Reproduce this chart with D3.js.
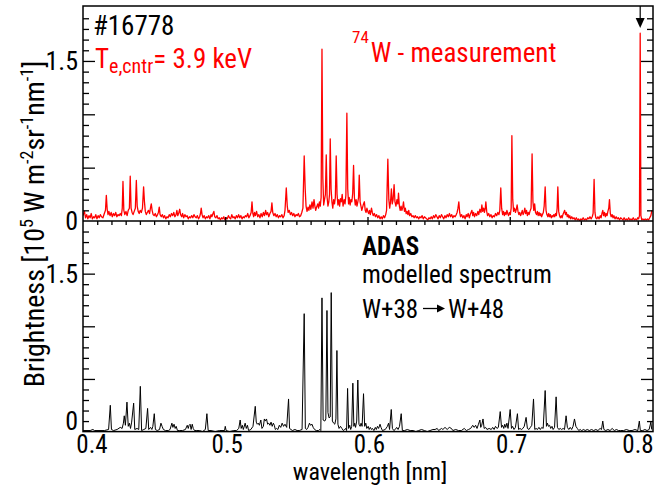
<!DOCTYPE html>
<html>
<head>
<meta charset="utf-8">
<script src="https://cdn.jsdelivr.net/npm/d3@7"></script>
<style>
  body { margin: 0; background: #fff; }
  text { font-family: "Liberation Sans Narrow", "Arial Narrow", "Roboto Condensed", sans-serif; }
</style>
</head>
<body>
<svg id="chart"></svg>
<script>
// measured W spectrum (shot #16778), [wavelength nm, brightness 1e5 W m-2 sr-1 nm-1]
const measured = [
  [0.4000,0.05],[0.4010,0.09],[0.4018,0.03],[0.4026,0.06],[0.4034,0.02],[0.4042,0.05],[0.4050,0.03],[0.4058,0.07],
  [0.4066,0.02],[0.4074,0.04],[0.4082,0.03],[0.4090,0.06],[0.4098,0.02],[0.4106,0.05],[0.4114,0.03],[0.4122,0.06],
  [0.4130,0.04],[0.4140,0.03],[0.4150,0.07],[0.4158,0.10],[0.4164,0.24],[0.4170,0.11],[0.4176,0.06],[0.4182,0.09],
  [0.4190,0.05],[0.4198,0.08],[0.4206,0.04],[0.4214,0.07],[0.4222,0.05],[0.4230,0.08],[0.4238,0.04],[0.4246,0.06],
  [0.4254,0.05],[0.4262,0.07],[0.4270,0.05],[0.4276,0.12],[0.4281,0.37],[0.4287,0.10],[0.4294,0.06],[0.4302,0.09],
  [0.4310,0.05],[0.4318,0.10],[0.4326,0.12],[0.4332,0.42],[0.4338,0.12],[0.4345,0.08],[0.4352,0.06],[0.4360,0.09],
  [0.4368,0.12],[0.4375,0.38],[0.4381,0.14],[0.4388,0.09],[0.4395,0.07],[0.4402,0.10],[0.4410,0.08],[0.4418,0.12],
  [0.4426,0.32],[0.4432,0.18],[0.4438,0.09],[0.4445,0.06],[0.4452,0.08],[0.4460,0.10],[0.4468,0.07],[0.4474,0.12],
  [0.4480,0.16],[0.4486,0.10],[0.4493,0.06],[0.4500,0.05],[0.4508,0.07],[0.4516,0.04],[0.4524,0.06],[0.4530,0.08],
  [0.4536,0.13],[0.4542,0.06],[0.4550,0.04],[0.4558,0.06],[0.4566,0.03],[0.4574,0.05],[0.4582,0.02],[0.4590,0.04],
  [0.4598,0.03],[0.4606,0.06],[0.4614,0.04],[0.4622,0.07],[0.4630,0.05],[0.4638,0.08],[0.4646,0.04],[0.4654,0.06],
  [0.4660,0.10],[0.4666,0.05],[0.4674,0.08],[0.4680,0.11],[0.4686,0.06],[0.4694,0.04],[0.4700,0.07],[0.4708,0.03],
  [0.4716,0.06],[0.4724,0.04],[0.4732,0.05],[0.4740,0.02],[0.4748,0.04],[0.4756,0.03],[0.4764,0.05],[0.4772,0.03],
  [0.4780,0.06],[0.4788,0.04],[0.4796,0.03],[0.4804,0.05],[0.4812,0.02],[0.4820,0.04],[0.4826,0.07],[0.4831,0.12],
  [0.4837,0.06],[0.4844,0.03],[0.4852,0.05],[0.4860,0.02],[0.4868,0.04],[0.4876,0.03],[0.4884,0.05],[0.4892,0.02],
  [0.4900,0.06],[0.4906,0.04],[0.4914,0.07],[0.4920,0.09],[0.4926,0.04],[0.4934,0.03],[0.4942,0.05],[0.4950,0.02],
  [0.4958,0.03],[0.4966,0.01],[0.4974,0.03],[0.4982,0.02],[0.4990,0.04],[0.4998,0.01],[0.5006,0.03],[0.5014,0.02],
  [0.5022,0.05],[0.5030,0.03],[0.5038,0.02],[0.5046,0.06],[0.5054,0.03],[0.5062,0.04],[0.5070,0.02],[0.5078,0.05],
  [0.5086,0.03],[0.5094,0.06],[0.5102,0.03],[0.5110,0.05],[0.5118,0.02],[0.5126,0.04],[0.5134,0.03],[0.5142,0.05],
  [0.5150,0.04],[0.5158,0.07],[0.5166,0.03],[0.5174,0.05],[0.5182,0.08],[0.5188,0.18],[0.5194,0.07],[0.5200,0.04],
  [0.5206,0.08],[0.5212,0.05],[0.5220,0.09],[0.5228,0.04],[0.5236,0.06],[0.5244,0.03],[0.5252,0.07],[0.5260,0.04],
  [0.5268,0.08],[0.5276,0.05],[0.5284,0.10],[0.5290,0.06],[0.5298,0.08],[0.5306,0.04],[0.5314,0.07],[0.5322,0.09],
  [0.5328,0.17],[0.5334,0.08],[0.5342,0.05],[0.5350,0.07],[0.5358,0.04],[0.5366,0.06],[0.5374,0.03],[0.5382,0.05],
  [0.5390,0.04],[0.5398,0.06],[0.5406,0.03],[0.5414,0.05],[0.5420,0.10],[0.5429,0.31],[0.5436,0.14],[0.5442,0.08],
  [0.5450,0.10],[0.5458,0.06],[0.5466,0.08],[0.5474,0.05],[0.5482,0.07],[0.5490,0.04],[0.5498,0.06],[0.5506,0.05],
  [0.5514,0.07],[0.5522,0.04],[0.5530,0.05],[0.5538,0.08],[0.5546,0.12],[0.5555,0.61],[0.5562,0.30],[0.5568,0.14],
  [0.5575,0.09],[0.5582,0.13],[0.5588,0.10],[0.5595,0.15],[0.5602,0.11],[0.5610,0.18],[0.5617,0.12],[0.5624,0.20],
  [0.5630,0.14],[0.5636,0.10],[0.5642,0.13],[0.5650,0.16],[0.5656,0.12],[0.5662,0.18],[0.5668,0.14],[0.5674,0.22],
  [0.5680,1.61],[0.5686,0.40],[0.5692,0.15],[0.5698,0.20],[0.5704,0.25],[0.5710,0.62],[0.5716,0.22],[0.5722,0.14],
  [0.5728,0.18],[0.5733,0.25],[0.5738,0.77],[0.5744,0.30],[0.5750,0.18],[0.5756,0.12],[0.5762,0.20],[0.5768,0.16],
  [0.5774,0.22],[0.5780,0.61],[0.5786,0.25],[0.5792,0.15],[0.5798,0.20],[0.5804,0.14],[0.5810,0.21],[0.5816,0.18],
  [0.5822,0.25],[0.5828,0.14],[0.5836,0.20],[0.5842,0.16],[0.5848,0.24],[0.5855,1.01],[0.5861,0.30],[0.5867,0.16],
  [0.5872,0.22],[0.5878,0.15],[0.5884,0.20],[0.5890,0.18],[0.5896,0.26],[0.5902,0.52],[0.5908,0.22],[0.5914,0.15],
  [0.5920,0.20],[0.5926,0.14],[0.5932,0.18],[0.5937,0.22],[0.5942,0.43],[0.5948,0.18],[0.5954,0.14],[0.5960,0.10],
  [0.5966,0.13],[0.5972,0.16],[0.5978,0.18],[0.5984,0.10],[0.5990,0.08],[0.5996,0.12],[0.6002,0.09],[0.6008,0.07],
  [0.6014,0.10],[0.6020,0.06],[0.6028,0.12],[0.6034,0.08],[0.6040,0.05],[0.6048,0.07],[0.6056,0.04],[0.6064,0.06],
  [0.6072,0.03],[0.6080,0.05],[0.6088,0.02],[0.6096,0.04],[0.6104,0.02],[0.6112,0.05],[0.6120,0.03],[0.6128,0.06],
  [0.6134,0.10],[0.6143,0.58],[0.6150,0.20],[0.6156,0.12],[0.6162,0.18],[0.6168,0.30],[0.6174,0.16],[0.6180,0.20],
  [0.6187,0.34],[0.6193,0.18],[0.6200,0.14],[0.6207,0.20],[0.6213,0.16],[0.6218,0.26],[0.6224,0.14],[0.6230,0.10],
  [0.6236,0.14],[0.6242,0.10],[0.6248,0.13],[0.6253,0.18],[0.6260,0.09],[0.6266,0.12],[0.6272,0.07],[0.6278,0.09],
  [0.6284,0.06],[0.6290,0.10],[0.6296,0.05],[0.6304,0.07],[0.6312,0.04],[0.6320,0.05],[0.6328,0.03],[0.6336,0.05],
  [0.6344,0.03],[0.6352,0.04],[0.6360,0.02],[0.6368,0.04],[0.6376,0.03],[0.6384,0.05],[0.6392,0.02],[0.6400,0.04],
  [0.6408,0.03],[0.6416,0.02],[0.6424,0.01],[0.6432,0.03],[0.6440,0.02],[0.6448,0.04],[0.6456,0.02],[0.6464,0.05],
  [0.6472,0.03],[0.6480,0.06],[0.6488,0.04],[0.6496,0.02],[0.6504,0.05],[0.6512,0.03],[0.6520,0.06],[0.6528,0.04],
  [0.6536,0.02],[0.6544,0.05],[0.6552,0.03],[0.6560,0.06],[0.6568,0.04],[0.6576,0.07],[0.6584,0.04],[0.6592,0.06],
  [0.6600,0.03],[0.6608,0.05],[0.6616,0.04],[0.6624,0.06],[0.6630,0.08],[0.6636,0.12],[0.6642,0.18],[0.6648,0.08],
  [0.6654,0.04],[0.6662,0.06],[0.6670,0.03],[0.6678,0.05],[0.6686,0.02],[0.6694,0.06],[0.6700,0.04],[0.6708,0.07],
  [0.6716,0.03],[0.6722,0.06],[0.6728,0.08],[0.6734,0.10],[0.6740,0.05],[0.6746,0.08],[0.6752,0.04],[0.6760,0.07],
  [0.6768,0.05],[0.6776,0.09],[0.6782,0.06],[0.6790,0.11],[0.6798,0.08],[0.6804,0.15],[0.6810,0.09],[0.6816,0.12],
  [0.6822,0.08],[0.6828,0.12],[0.6832,0.18],[0.6838,0.09],[0.6844,0.05],[0.6852,0.07],[0.6860,0.04],[0.6868,0.06],
  [0.6876,0.03],[0.6884,0.05],[0.6892,0.04],[0.6900,0.07],[0.6908,0.05],[0.6916,0.08],[0.6924,0.06],[0.6930,0.10],
  [0.6937,0.31],[0.6943,0.12],[0.6950,0.06],[0.6956,0.09],[0.6962,0.05],[0.6968,0.08],[0.6974,0.06],[0.6980,0.10],
  [0.6986,0.07],[0.6992,0.05],[0.6998,0.08],[0.7004,0.06],[0.7010,0.12],[0.7015,0.80],[0.7021,0.20],[0.7027,0.09],
  [0.7033,0.12],[0.7040,0.08],[0.7046,0.11],[0.7052,0.15],[0.7058,0.09],[0.7064,0.06],[0.7070,0.08],[0.7076,0.05],
  [0.7082,0.07],[0.7088,0.10],[0.7094,0.06],[0.7100,0.08],[0.7106,0.12],[0.7112,0.07],[0.7118,0.10],[0.7124,0.05],
  [0.7130,0.08],[0.7136,0.06],[0.7142,0.09],[0.7150,0.12],[0.7157,0.63],[0.7163,0.18],[0.7169,0.10],[0.7175,0.16],
  [0.7181,0.08],[0.7188,0.06],[0.7194,0.09],[0.7200,0.05],[0.7206,0.08],[0.7212,0.05],[0.7218,0.07],[0.7224,0.04],
  [0.7230,0.06],[0.7236,0.08],[0.7242,0.14],[0.7249,0.32],[0.7255,0.10],[0.7261,0.06],[0.7268,0.04],[0.7274,0.07],
  [0.7280,0.04],[0.7286,0.06],[0.7292,0.03],[0.7298,0.05],[0.7304,0.04],[0.7310,0.06],[0.7316,0.04],[0.7322,0.07],
  [0.7328,0.05],[0.7333,0.12],[0.7338,0.32],[0.7344,0.09],[0.7350,0.05],[0.7356,0.03],[0.7362,0.05],[0.7368,0.03],
  [0.7374,0.06],[0.7380,0.08],[0.7386,0.10],[0.7392,0.06],[0.7398,0.08],[0.7404,0.04],[0.7410,0.06],[0.7416,0.03],
  [0.7422,0.05],[0.7428,0.02],[0.7436,0.04],[0.7444,0.02],[0.7452,0.03],[0.7460,0.01],[0.7468,0.03],[0.7476,0.01],
  [0.7484,0.02],[0.7492,0.00],[0.7500,0.02],[0.7508,0.01],[0.7516,0.03],[0.7524,0.01],[0.7532,0.02],[0.7540,0.01],
  [0.7548,0.03],[0.7556,0.02],[0.7564,0.04],[0.7572,0.02],[0.7580,0.04],[0.7586,0.07],[0.7593,0.39],[0.7599,0.08],
  [0.7605,0.03],[0.7612,0.02],[0.7620,0.04],[0.7628,0.02],[0.7636,0.05],[0.7642,0.03],[0.7648,0.07],[0.7654,0.10],
  [0.7660,0.05],[0.7666,0.08],[0.7672,0.04],[0.7678,0.07],[0.7684,0.05],[0.7690,0.09],[0.7696,0.12],[0.7701,0.20],
  [0.7707,0.07],[0.7713,0.04],[0.7720,0.06],[0.7726,0.03],[0.7732,0.05],[0.7740,0.02],[0.7748,0.04],[0.7756,0.02],
  [0.7764,0.03],[0.7772,0.01],[0.7780,0.03],[0.7788,0.02],[0.7796,0.01],[0.7804,0.03],[0.7812,0.01],[0.7820,0.02],
  [0.7828,0.01],[0.7836,0.03],[0.7844,0.01],[0.7852,0.02],[0.7860,0.01],[0.7868,0.03],[0.7876,0.01],[0.7884,0.02],
  [0.7892,0.01],[0.7900,0.03],[0.7906,0.02],[0.7912,0.05],[0.7917,1.76],[0.7922,0.05],[0.7928,0.01],[0.7936,0.02],
  [0.7944,0.01],[0.7952,0.02],[0.7960,0.01],[0.7968,0.02],[0.7976,0.01],[0.7984,0.03],[0.7992,0.05],[0.7999,0.10]
];

// ADAS modelled spectrum W+38 -> W+48
const modelled = [
  [0.4000,0.01],[0.4050,0.01],[0.4070,0.02],[0.4080,0.01],[0.4150,0.01],[0.4180,0.02],[0.4192,0.25],[0.4200,0.02],
  [0.4215,0.01],[0.4240,0.02],[0.4262,0.04],[0.4275,0.03],[0.4284,0.08],[0.4290,0.15],[0.4298,0.06],[0.4309,0.28],
  [0.4318,0.05],[0.4326,0.08],[0.4334,0.03],[0.4342,0.09],[0.4356,0.27],[0.4364,0.02],[0.4380,0.03],[0.4392,0.02],
  [0.4403,0.43],[0.4412,0.01],[0.4428,0.02],[0.4442,0.03],[0.4454,0.22],[0.4462,0.02],[0.4475,0.04],[0.4484,0.02],
  [0.4491,0.05],[0.4501,0.17],[0.4509,0.02],[0.4522,0.01],[0.4538,0.02],[0.4548,0.08],[0.4556,0.05],[0.4565,0.02],
  [0.4580,0.01],[0.4600,0.01],[0.4612,0.02],[0.4625,0.08],[0.4632,0.04],[0.4640,0.07],[0.4648,0.03],[0.4655,0.05],
  [0.4664,0.01],[0.4680,0.01],[0.4700,0.01],[0.4720,0.02],[0.4733,0.06],[0.4740,0.03],[0.4746,0.06],[0.4753,0.07],
  [0.4760,0.02],[0.4768,0.07],[0.4775,0.03],[0.4784,0.01],[0.4800,0.01],[0.4820,0.01],[0.4840,0.00],[0.4860,0.02],
  [0.4871,0.17],[0.4880,0.01],[0.4900,0.01],[0.4930,0.00],[0.4960,0.01],[0.4995,0.01],[0.5000,0.05],[0.5006,0.01],
  [0.5030,0.00],[0.5060,0.01],[0.5080,0.01],[0.5095,0.03],[0.5105,0.11],[0.5112,0.03],[0.5120,0.06],[0.5127,0.02],
  [0.5140,0.08],[0.5148,0.03],[0.5156,0.06],[0.5164,0.01],[0.5180,0.02],[0.5195,0.05],[0.5211,0.24],[0.5218,0.09],
  [0.5225,0.07],[0.5232,0.08],[0.5240,0.06],[0.5250,0.11],[0.5258,0.03],[0.5268,0.05],[0.5275,0.12],[0.5282,0.10],
  [0.5290,0.12],[0.5298,0.07],[0.5306,0.08],[0.5314,0.06],[0.5322,0.09],[0.5330,0.05],[0.5338,0.08],[0.5345,0.06],
  [0.5352,0.02],[0.5360,0.03],[0.5370,0.02],[0.5380,0.06],[0.5390,0.04],[0.5400,0.08],[0.5410,0.05],[0.5420,0.07],
  [0.5432,0.04],[0.5445,0.31],[0.5452,0.03],[0.5462,0.02],[0.5472,0.01],[0.5490,0.02],[0.5505,0.01],[0.5520,0.01],
  [0.5540,0.02],[0.5555,1.12],[0.5563,0.03],[0.5572,0.02],[0.5582,0.04],[0.5592,0.08],[0.5600,0.06],[0.5610,0.07],
  [0.5618,0.04],[0.5628,0.02],[0.5640,0.01],[0.5655,0.01],[0.5665,0.02],[0.5672,0.01],[0.5680,1.27],[0.5688,0.11],
  [0.5700,0.10],[0.5707,0.12],[0.5715,1.15],[0.5722,0.18],[0.5730,0.13],[0.5738,0.14],[0.5745,1.32],[0.5753,0.10],
  [0.5762,0.08],[0.5770,0.07],[0.5778,0.12],[0.5785,0.77],[0.5792,0.07],[0.5800,0.03],[0.5810,0.05],[0.5820,0.03],
  [0.5830,0.01],[0.5840,0.02],[0.5846,0.03],[0.5853,0.01],[0.5860,0.41],[0.5867,0.03],[0.5875,0.06],[0.5882,0.02],
  [0.5889,0.05],[0.5897,0.46],[0.5904,0.05],[0.5910,0.08],[0.5916,0.04],[0.5924,0.10],[0.5932,0.49],[0.5940,0.07],
  [0.5948,0.05],[0.5955,0.08],[0.5962,0.05],[0.5972,0.36],[0.5980,0.05],[0.5988,0.08],[0.5995,0.03],[0.6005,0.05],
  [0.6012,0.02],[0.6020,0.04],[0.6028,0.02],[0.6035,0.03],[0.6045,0.01],[0.6055,0.04],[0.6062,0.02],[0.6070,0.05],
  [0.6078,0.03],[0.6088,0.07],[0.6095,0.04],[0.6105,0.01],[0.6125,0.02],[0.6140,0.05],[0.6148,0.08],[0.6155,0.02],
  [0.6167,0.21],[0.6175,0.03],[0.6185,0.01],[0.6195,0.02],[0.6205,0.04],[0.6215,0.02],[0.6225,0.05],[0.6237,0.17],
  [0.6245,0.01],[0.6260,0.01],[0.6280,0.02],[0.6300,0.01],[0.6320,0.01],[0.6340,0.00],[0.6360,0.01],[0.6380,0.02],
  [0.6400,0.01],[0.6420,0.00],[0.6440,0.01],[0.6460,0.02],[0.6475,0.02],[0.6490,0.03],[0.6500,0.01],[0.6520,0.03],
  [0.6530,0.02],[0.6545,0.04],[0.6560,0.02],[0.6575,0.04],[0.6590,0.03],[0.6600,0.01],[0.6620,0.02],[0.6640,0.01],
  [0.6660,0.01],[0.6680,0.03],[0.6695,0.01],[0.6710,0.02],[0.6725,0.03],[0.6740,0.06],[0.6750,0.04],[0.6760,0.06],
  [0.6770,0.03],[0.6780,0.07],[0.6790,0.11],[0.6796,0.04],[0.6803,0.06],[0.6812,0.12],[0.6820,0.03],[0.6830,0.04],
  [0.6840,0.02],[0.6855,0.03],[0.6870,0.02],[0.6880,0.04],[0.6890,0.02],[0.6900,0.05],[0.6910,0.03],[0.6920,0.04],
  [0.6933,0.19],[0.6942,0.04],[0.6950,0.06],[0.6958,0.03],[0.6965,0.07],[0.6972,0.04],[0.6980,0.08],[0.6988,0.03],
  [0.7003,0.21],[0.7012,0.03],[0.7020,0.05],[0.7030,0.02],[0.7040,0.04],[0.7054,0.17],[0.7062,0.02],[0.7072,0.03],
  [0.7082,0.02],[0.7092,0.03],[0.7102,0.05],[0.7115,0.135],[0.7124,0.03],[0.7135,0.02],[0.7145,0.04],[0.7155,0.06],
  [0.7167,0.31],[0.7176,0.02],[0.7185,0.03],[0.7195,0.02],[0.7205,0.04],[0.7215,0.02],[0.7225,0.04],[0.7235,0.03],
  [0.7249,0.39],[0.7258,0.05],[0.7265,0.08],[0.7272,0.05],[0.7280,0.06],[0.7288,0.03],[0.7297,0.05],[0.7305,0.02],
  [0.7315,0.04],[0.7326,0.33],[0.7335,0.04],[0.7345,0.02],[0.7355,0.03],[0.7365,0.02],[0.7375,0.03],[0.7385,0.02],
  [0.7396,0.15],[0.7405,0.04],[0.7415,0.02],[0.7425,0.04],[0.7435,0.02],[0.7445,0.05],[0.7455,0.12],[0.7465,0.05],
  [0.7475,0.03],[0.7485,0.01],[0.7495,0.02],[0.7505,0.01],[0.7520,0.02],[0.7530,0.01],[0.7545,0.02],[0.7560,0.01],
  [0.7575,0.02],[0.7590,0.01],[0.7605,0.02],[0.7620,0.01],[0.7635,0.03],[0.7645,0.02],[0.7654,0.10],[0.7662,0.02],
  [0.7675,0.01],[0.7690,0.02],[0.7705,0.01],[0.7720,0.03],[0.7735,0.01],[0.7750,0.02],[0.7765,0.01],[0.7780,0.01],
  [0.7800,0.01],[0.7820,0.02],[0.7840,0.01],[0.7860,0.01],[0.7880,0.02],[0.7900,0.01],[0.7911,0.10],[0.7918,0.01],
  [0.7935,0.01],[0.7950,0.02],[0.7965,0.01],[0.7980,0.02],[0.7992,0.09],[0.7998,0.02]
];

const xTickLabels = [0.4, 0.5, 0.6, 0.7, 0.8];
const yTickLabels = [0, 1.5];
const arrowWl = 0.7917;   // marked line in the measurement

const W = 665, H = 488;
const plotL = 83, plotR = 653, plotT = 6, plotM = 221, plotB = 431.6;

const svg = d3.select("#chart").attr("width", W).attr("height", H);

const x = d3.scaleLinear().domain([0.4, 0.8]).range([plotL, plotR - 1]);
const yTop = d3.scaleLinear().domain([0, 2]).range([plotM, plotT + 1.6]);
const yBot = d3.scaleLinear().domain([0, 2]).range([plotB, plotM]);

// clip paths for the two panels
const defs = svg.append("defs");
defs.append("clipPath").attr("id", "clipTop")
  .append("rect").attr("x", plotL).attr("y", plotT).attr("width", plotR - plotL).attr("height", plotM - plotT);
defs.append("clipPath").attr("id", "clipBot")
  .append("rect").attr("x", plotL).attr("y", plotM).attr("width", plotR - plotL).attr("height", plotB - plotM);

// spectra
svg.append("path")
  .datum(measured)
  .attr("clip-path", "url(#clipTop)")
  .attr("fill", "none")
  .attr("stroke", "#ff0000")
  .attr("stroke-width", 1.3)
  .attr("stroke-linejoin", "round")
  .attr("d", d3.line().x(d => x(d[0])).y(d => yTop(d[1])));

svg.append("path")
  .datum(modelled)
  .attr("clip-path", "url(#clipBot)")
  .attr("fill", "none")
  .attr("stroke", "#000")
  .attr("stroke-width", 1)
  .attr("stroke-linejoin", "round")
  .attr("d", d3.line().x(d => x(d[0])).y(d => yBot(d[1])));

// ticks (inward), via d3 axes
const minorY = d3.range(1, 20).filter(i => i % 5 !== 0).map(i => i / 10);
const majorY = [0.5, 1.0, 1.5];
const minorX = d3.range(1, 40).filter(i => i % 10 !== 0).map(i => 0.4 + i / 100);
const majorX = [0.5, 0.6, 0.7];

function ticks(axis, transform) {
  const g = svg.append("g").attr("transform", transform).call(axis.tickFormat(""));
  g.select(".domain").remove();
  g.selectAll("line").attr("stroke", "#000").attr("stroke-width", 1.3);
}

[yTop, yBot].forEach(y => {
  ticks(d3.axisLeft(y).tickValues(minorY).tickSize(-6), `translate(${plotL},0)`);
  ticks(d3.axisLeft(y).tickValues(majorY).tickSize(-12), `translate(${plotL},0)`);
  ticks(d3.axisRight(y).tickValues(minorY).tickSize(-6), `translate(${plotR},0)`);
  ticks(d3.axisRight(y).tickValues(majorY).tickSize(-12), `translate(${plotR},0)`);
});
// ticks on the shared middle axis
ticks(d3.axisBottom(x).tickValues(minorX).tickSize(4), `translate(0,${plotM})`);
ticks(d3.axisBottom(x).tickValues(majorX).tickSize(8), `translate(0,${plotM - 4})`);

// frame
svg.append("rect")
  .attr("x", plotL).attr("y", plotT).attr("width", plotR - plotL).attr("height", plotB - plotT)
  .attr("fill", "none").attr("stroke", "#000").attr("stroke-width", 1.5);
svg.append("line")
  .attr("x1", plotL).attr("x2", plotR).attr("y1", plotM).attr("y2", plotM)
  .attr("stroke", "#000").attr("stroke-width", 1.5);

// arrow marking the strong line
const ax = x(arrowWl);
svg.append("line").attr("x1", ax).attr("x2", ax).attr("y1", plotT).attr("y2", 19)
  .attr("stroke", "#000").attr("stroke-width", 1.2);
svg.append("path").attr("d", `M${ax - 4.5},18L${ax + 4.5},18L${ax},28Z`).attr("fill", "#000");

// tick labels
svg.selectAll(".xlab").data(xTickLabels).join("text")
  .attr("class", "xlab")
  .attr("x", (d, i) => x(d) + (i === 0 ? 9 : i === xTickLabels.length - 1 ? -14 : 2))
  .attr("y", 453)
  .attr("text-anchor", "middle")
  .attr("font-size", 25)
  .text(d => d.toFixed(1));

svg.selectAll(".ylabT").data(yTickLabels).join("text")
  .attr("class", "ylabT")
  .attr("x", 78)
  .attr("y", d => yTop(d) + 9)
  .attr("text-anchor", "end")
  .attr("font-size", 26)
  .text(d => d === 0 ? "0" : d.toFixed(1));

svg.selectAll(".ylabB").data(yTickLabels).join("text")
  .attr("class", "ylabB")
  .attr("x", 78)
  .attr("y", d => (d === 0 ? yBot(0.1) : yBot(d)) + 9)
  .attr("text-anchor", "end")
  .attr("font-size", 26)
  .text(d => d === 0 ? "0" : d.toFixed(1));

// axis titles
svg.append("text")
  .attr("x", 370).attr("y", 480)
  .attr("text-anchor", "middle")
  .attr("font-size", 24)
  .text("wavelength [nm]");

const yt = svg.append("text")
  .attr("transform", "translate(44,224) rotate(-90)")
  .attr("text-anchor", "middle")
  .attr("font-size", 28);
yt.append("tspan").text("Brightness [10");
yt.append("tspan").attr("font-size", 18).attr("dy", -11).text("5");
yt.append("tspan").attr("dy", 11).text(" W m");
yt.append("tspan").attr("font-size", 18).attr("dy", -11).text("-2");
yt.append("tspan").attr("dy", 11).text("sr");
yt.append("tspan").attr("font-size", 18).attr("dy", -11).text("-1");
yt.append("tspan").attr("dy", 11).text("nm");
yt.append("tspan").attr("font-size", 18).attr("dy", -11).text("-1");
yt.append("tspan").attr("dy", 11).text("]");

// annotations, top panel
svg.append("text").attr("x", 93).attr("y", 35).attr("font-size", 27).text("#16778");

const te = svg.append("text").attr("x", 95).attr("y", 68).attr("font-size", 27).attr("fill", "#ff0000");
te.append("tspan").text("T");
te.append("tspan").attr("font-size", 20).attr("dy", 5).text("e,cntr");
te.append("tspan").attr("dy", -5).text("= 3.9 keV");

const wm = svg.append("text").attr("x", 352).attr("y", 62).attr("font-size", 27).attr("fill", "#ff0000");
wm.append("tspan").attr("font-size", 17).attr("dy", -19).text("74");
wm.append("tspan").attr("dy", 19).attr("dx", 2).text("W - measurement");

// annotations, bottom panel
svg.append("text").attr("x", 362).attr("y", 255).attr("font-size", 25).attr("font-weight", "bold").text("ADAS");
svg.append("text").attr("x", 362).attr("y", 283).attr("font-size", 25).text("modelled spectrum");
svg.append("text").attr("x", 362).attr("y", 318).attr("font-size", 25).text("W+38");
svg.append("text").attr("x", 448).attr("y", 318).attr("font-size", 25).text("W+48");
// long arrow between the charge states
svg.append("line").attr("x1", 423).attr("x2", 440).attr("y1", 308.5).attr("y2", 308.5)
  .attr("stroke", "#000").attr("stroke-width", 1.3);
svg.append("path").attr("d", "M437,304.5L445,308.5L437,312.5Z").attr("fill", "#000");
</script>
</body>
</html>
